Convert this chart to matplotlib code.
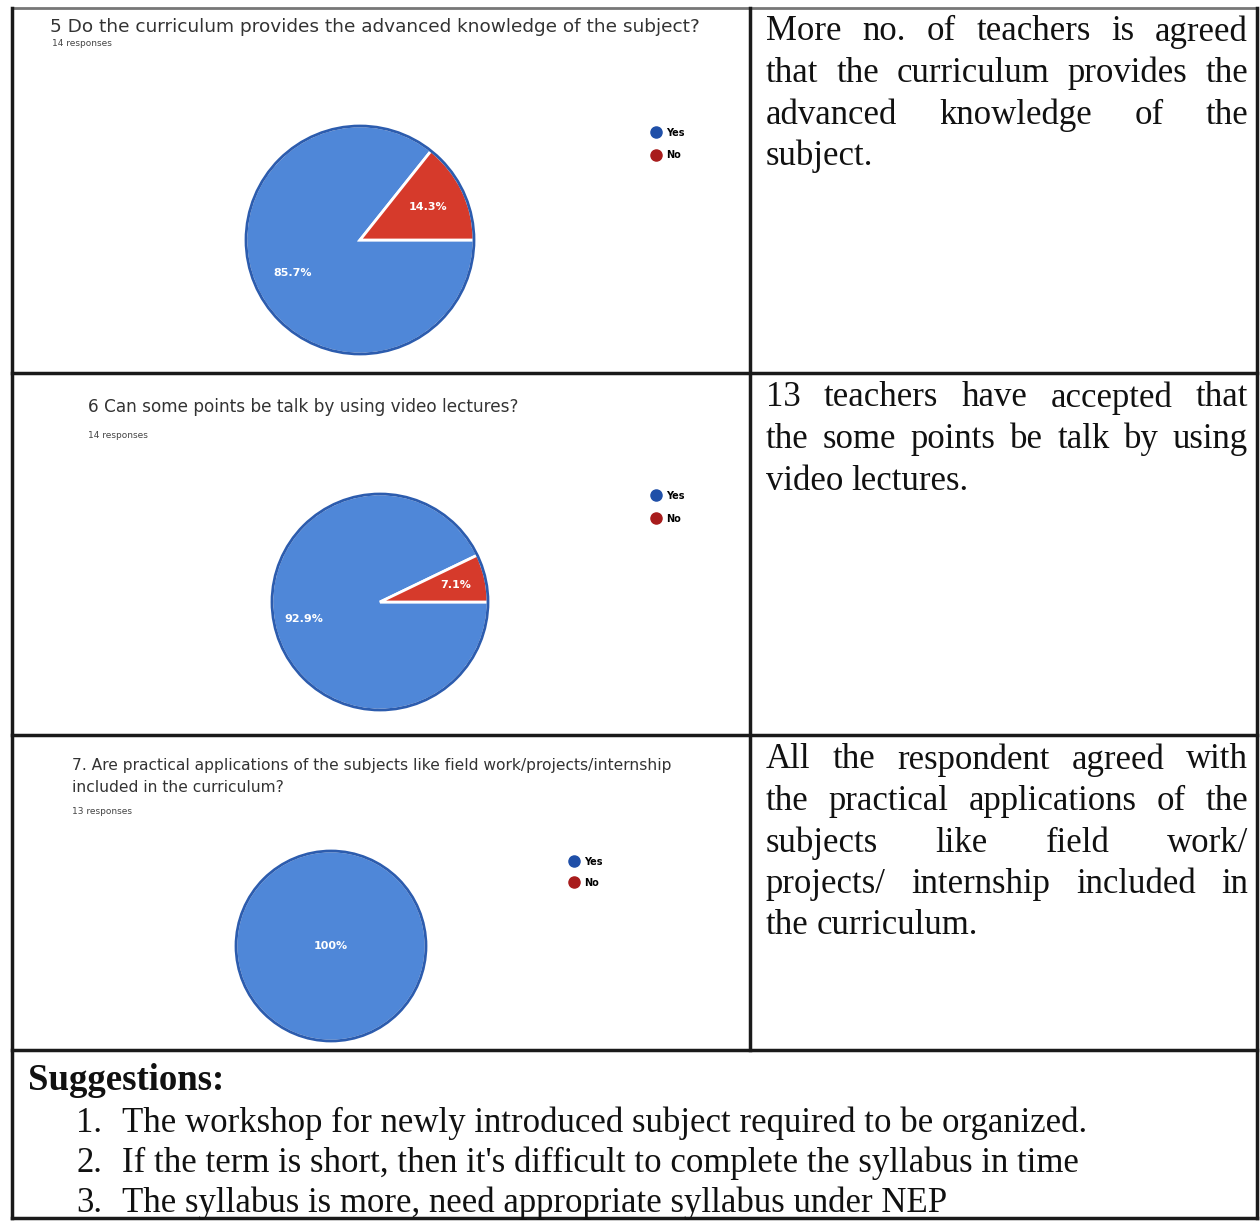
import matplotlib
matplotlib.use('Agg')
import matplotlib.pyplot as plt
from matplotlib.lines import Line2D
from matplotlib.patches import Circle

# survey data
questions = ['5 Do the curriculum provides the advanced knowledge of the subject?',
             '6 Can some points be talk by using video lectures?',
             '7. Are practical applications of the subjects like field work/projects/internship\nincluded in the curriculum?']
responses = ['14 responses', '14 responses', '13 responses']
answer_labels = ['Yes', 'No']
yes_counts = [12, 13, 13]
no_counts = [2, 1, 0]

comments = [
    ['More no. of teachers is agreed', 'that the curriculum provides the',
     'advanced knowledge of the', 'subject.'],
    ['13 teachers have accepted that', 'the some points be talk by using',
     'video lectures.'],
    ['All the respondent agreed with', 'the practical applications of the',
     'subjects like field work/', 'projects/ internship included in',
     'the curriculum.'],
]
suggestions = ['The workshop for newly introduced subject required to be organized.',
               "If the term is short, then it's difficult to complete the syllabus in time",
               'The syllabus is more, need appropriate syllabus under NEP']

W, H = 1260, 1222
fig = plt.figure(figsize=(W / 100, H / 100), dpi=100)
bg = fig.add_axes([0, 0, 1, 1])
bg.set_xlim(0, W)
bg.set_ylim(H, 0)
bg.axis('off')

blue = '#4f87d8'
red = '#d63a2b'
sans = 'DejaVu Sans'
serif = 'Liberation Serif'

# table lines
lc = '#1a1a1a'
bg.plot([12, 1257], [8, 8], color='#777777', lw=2)
bg.plot([12, 12], [8, 1218], color=lc, lw=2.5)
bg.plot([1257, 1257], [8, 1218], color=lc, lw=2.5)
bg.plot([12, 1257], [1218, 1218], color=lc, lw=2.5)
bg.plot([750, 750], [8, 1050], color=lc, lw=2.5)
for yy in [373, 735, 1050]:
    bg.plot([12, 1257], [yy, yy], color=lc, lw=2.5)

# pie layout (pixel centres / radius)
centers = [(360, 240), (380, 602), (331, 946)]
radii = [114, 108, 95]
pct_dist = [0.66, 0.72, 0.0]
title_pos = [(50, 18), (88, 398), (72, 758)]
title_size = [13.3, 12.2, 11.2]
resp_pos = [(52, 44), (88, 436), (72, 812)]
legend_pos = [(646, 123), (646, 486), (564, 852)]
legend_gap = [1.3, 1.3, 1.1]


def fmt(p):
    if p < 0.01:
        return ''
    if abs(p - 100) < 0.01:
        return '100%'
    return '%.1f%%' % p


for i in range(3):
    cx, cy = centers[i]
    r = radii[i] * 1.03
    ax = fig.add_axes([(cx - r) / W, 1 - (cy + r) / H, 2 * r / W, 2 * r / H])
    vals = [yes_counts[i], no_counts[i]]
    wedges, texts, autotexts = ax.pie(
        vals, colors=[blue, red], startangle=0,
        counterclock=False, autopct=fmt, pctdistance=pct_dist[i],
        wedgeprops=dict(edgecolor='white', linewidth=2),
        textprops=dict(color='white', fontsize=8, fontweight='bold', family=sans))
    for w, v in zip(wedges, vals):
        if v == 0:
            w.set_linewidth(0)
    ax.add_patch(Circle((0, 0), 1.0, fill=False, edgecolor='#2c5cae', lw=2))
    ax.set_xlim(-1.03, 1.03)
    ax.set_ylim(-1.03, 1.03)
    handles = [Line2D([], [], marker='o', linestyle='', markersize=8, color=c)
               for c in ['#1f4fa8', '#a81c1c']]
    ax.legend(handles, answer_labels, loc='upper left', frameon=False,
              bbox_to_anchor=legend_pos[i], bbox_transform=bg.transData,
              prop=dict(family=sans, size=7, weight='bold'), handletextpad=0.6,
              labelspacing=legend_gap[i], borderpad=0, handlelength=1)
    tx, ty = title_pos[i]
    bg.text(tx, ty, questions[i], fontsize=title_size[i], family=sans,
            color='#333333', va='top', linespacing=1.6)
    rx, ry = resp_pos[i]
    bg.text(rx, ry, responses[i], fontsize=6.5, family=sans, color='#444444',
            va='center')

# justified comment text in the right column
renderer = fig.canvas.get_renderer()
line_starts = [32, 398, 760]
x_left, x_right = 766, 1248
for cell, lines in enumerate(comments):
    for j, line in enumerate(lines):
        y = line_starts[cell] + j * 41.5
        words = line.split(' ')
        last = j == len(lines) - 1
        objs = [bg.text(0, y, w, fontsize=25, family=serif, color='#111111',
                        va='center') for w in words]
        widths = [o.get_window_extent(renderer).width for o in objs]
        if last or len(words) == 1:
            gap = 8
        else:
            gap = (x_right - x_left - sum(widths)) / (len(words) - 1)
        x = x_left
        for o, w in zip(objs, widths):
            o.set_x(x)
            x += w + gap

# suggestions
bg.text(28, 1080, 'Suggestions:', fontsize=26.5, family=serif, fontweight='bold',
        color='#111111', va='center')
for k, s in enumerate(suggestions):
    y = 1123 + k * 40
    bg.text(76, y, '%d.' % (k + 1), fontsize=25, family=serif, color='#111111',
            va='center')
    bg.text(122, y, s, fontsize=25, family=serif, color='#111111', va='center')

plt.savefig('out.png', dpi=100)
